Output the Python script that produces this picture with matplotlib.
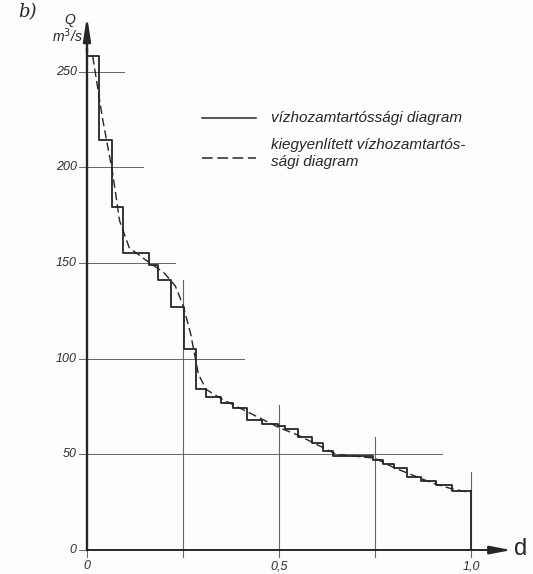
import matplotlib
matplotlib.use("Agg")
import matplotlib.pyplot as plt

plt.rcParams['font.family'] = ['Liberation Sans Narrow', 'Liberation Sans', 'DejaVu Sans']

# duration curve of discharge, step form (d = relative duration, Q in m3/s)
d_edges = [0.0, 0.032, 0.066, 0.094, 0.162, 0.186, 0.22, 0.253, 0.284,
           0.31, 0.35, 0.38, 0.417, 0.456, 0.497, 0.516, 0.55, 0.585,
           0.615, 0.64, 0.745, 0.77, 0.8, 0.833, 0.87, 0.91, 0.95, 1.0]
q_steps = [258, 214, 179, 155, 149, 141, 127, 105, 84,
           80, 77, 74, 68, 66, 65, 63, 59, 56,
           52, 49, 47, 45, 43, 38, 36, 34, 31]

# smoothed (equalised) curve
d_smooth = [0.015, 0.04, 0.066, 0.085, 0.11, 0.15, 0.2, 0.23, 0.25, 0.27,
            0.29, 0.31, 0.35, 0.4, 0.45, 0.5, 0.55, 0.6, 0.65, 0.7, 0.75,
            0.8, 0.85, 0.9, 0.95, 1.0]
q_smooth = [258, 226, 198, 172, 158, 152, 145, 138, 128, 113,
            92, 84, 79, 74, 69, 64, 60, 55, 50, 49, 48,
            43, 39, 35, 32, 30]

# grid lines and how far each one reaches
q_grid = [50, 100, 150, 200, 250]
q_grid_end = [0.925, 0.41, 0.23, 0.145, 0.096]
d_grid = [0.25, 0.5, 0.75, 1.0]
d_grid_top = [141, 76, 59, 41]

y_labels = ['0', '50', '100', '150', '200', '250']
y_ticks = [0, 50, 100, 150, 200, 250]
x_labels = ['0', '0,5', '1,0']
x_ticks = [0.0, 0.5, 1.0]

fig = plt.figure(figsize=(5.33, 5.74), dpi=100, facecolor='#fdfdfb')
ax = fig.add_axes([0, 0, 1, 1])
ax.set_facecolor('#fdfdfb')
ax.set_xlim(-0.2265, 1.1615)
ax.set_ylim(-12.5, 287.4)
ax.axis('off')

ink = '#262626'
grey = '#666666'

# grid
for q, e in zip(q_grid, q_grid_end):
    ax.plot([-0.02, e], [q, q], color=grey, lw=0.7)
for d, t in zip(d_grid, d_grid_top):
    ax.plot([d, d], [-3.5, t], color=grey, lw=0.8)
ax.plot([-0.02, 0], [0, 0], color=grey, lw=0.7)
ax.plot([0, 0], [-3.5, 0], color=grey, lw=0.7)

# axes with arrows
ax.plot([0, 0], [0, 262], color=ink, lw=1.7)
ax.annotate('', xy=(0, 279), xytext=(0, 260),
            arrowprops=dict(arrowstyle='-|>,head_length=1.4,head_width=0.22',
                            color=ink, lw=1.7, shrinkA=0, shrinkB=0))
ax.plot([0, 1.055], [0, 0], color=ink, lw=1.4)
ax.annotate('', xy=(1.105, 0), xytext=(1.05, 0),
            arrowprops=dict(arrowstyle='-|>,head_length=1.3,head_width=0.25',
                            color=ink, lw=1.4, shrinkA=0, shrinkB=0))

# step curve and smoothed curve
ax.step(d_edges, q_steps + [q_steps[-1]], where='post', color=ink, lw=1.3)
ax.plot([1.0, 1.0], [0, q_steps[-1]], color=ink, lw=1.3)
ax.plot(d_smooth, q_smooth, color=ink, lw=1.0, dashes=(6, 3))

# tick labels
lab = dict(fontsize=9, style='italic', color='#2e2e2e')
for t, s in zip(y_ticks, y_labels):
    ax.text(-0.027, t, s, ha='right', va='center', **lab)
for t, s in zip(x_ticks, x_labels):
    ax.text(t, -8.5, s, ha='center', va='center', **lab)

ax.text(-0.044, 277, 'Q', ha='center', va='center', fontsize=10,
        style='italic', color=ink)
ax.text(-0.05, 269, 'm$^3$/s', ha='center', va='center', fontsize=10,
        style='italic', color=ink)
ax.text(1.13, 0.5, 'd', ha='center', va='center', fontsize=17, color=ink)
ax.text(-0.155, 281, 'b)', ha='center', va='center', fontsize=13,
        style='italic', family='DejaVu Serif', color=ink)

# legend
ax.plot([0.3, 0.44], [226, 226], color=ink, lw=1.1)
ax.plot([0.3, 0.44], [205, 205], color=ink, lw=1.1, dashes=(7, 3))
leg = dict(fontsize=11, style='italic', color=ink, ha='left', va='center')
ax.text(0.48, 226, 'vízhozamtartóssági diagram', **leg)
ax.text(0.48, 211.5, 'kiegyenlített vízhozamtartós-', **leg)
ax.text(0.48, 203, 'sági diagram', **leg)

fig.savefig('out.png', dpi=100, facecolor=fig.get_facecolor())
